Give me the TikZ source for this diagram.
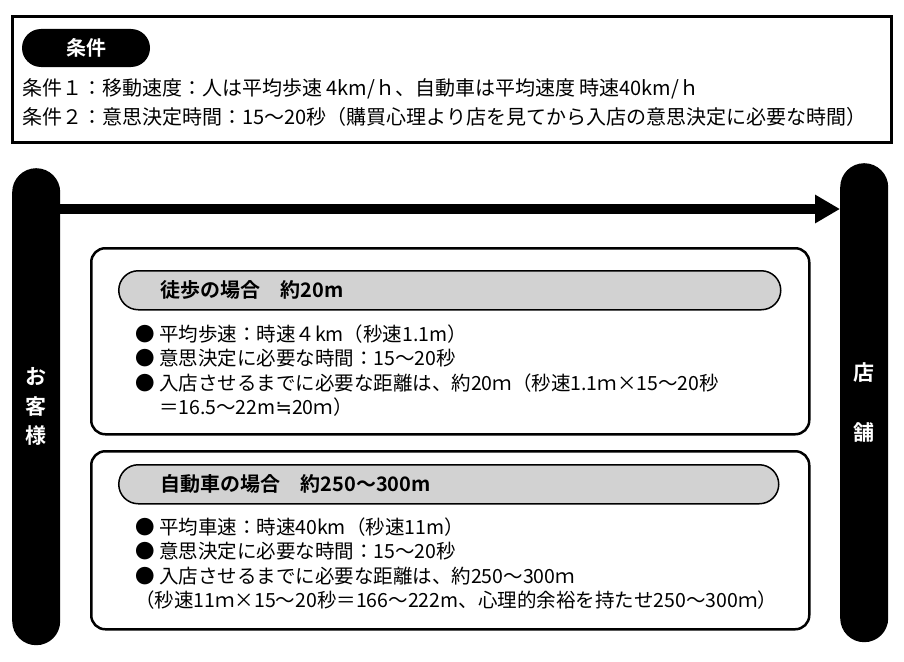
\documentclass[tikz,border=0pt]{standalone}
\usepackage{fontspec}
\setmainfont{Noto Sans CJK JP}[BoldFont={Noto Sans CJK JP Bold}]
\newfontfamily\symfont{DejaVu Sans}
\usetikzlibrary{arrows.meta}
\usetikzlibrary{positioning}

\tikzset{
  panel/.style={draw, line width=2.5pt, rounded corners=14pt, anchor=north west},
  headpill/.style={draw, line width=1.5pt, fill=gray!35, rounded corners=19.5pt,
    minimum height=39pt, inner xsep=42pt, inner ysep=0pt, align=left,
    font=\fontsize{20}{24}\selectfont\bfseries, anchor=north west},
  sidebar/.style={fill=black, rounded corners=24pt, minimum width=48pt,
    text=white, align=center, anchor=north west},
  txtline/.style={anchor=west, inner sep=0pt, text height=17pt, text depth=2pt,
    font=\fontsize{19.5}{24}\selectfont},
  nextline/.style={below=5pt of #1.south west, anchor=north west},
}

\begin{document}
\begin{tikzpicture}[x=1pt, y=-1pt]

    \useasboundingbox (0, 0) rectangle (904, 661);

    % conditions
    \node [draw, line width=3pt, minimum width=879pt, minimum height=126pt,
      anchor=north west] (cond) at (11, 15) {};
    \node [fill=black, text=white, rounded corners=19pt, minimum width=128pt,
      minimum height=38pt, font=\fontsize{20}{24}\selectfont\bfseries]
      (condtag) at (86, 48) {条件};
    \node [txtline, font=\fontsize{20}{24}\selectfont] (cond1) at (22, 88)
    {条件１：移動速度：人は平均歩速 4km/ｈ、自動車は平均速度 時速40km/ｈ};
    \node [txtline, font=\fontsize{20}{24}\selectfont] (cond2) at (22, 117)
    {条件２：意思決定時間：15～20秒（購買心理より店を見てから入店の意思決定に必要な時間）};

    % customer and shop
    \node [sidebar, minimum height=477pt,
      font=\fontsize{21}{29.5}\selectfont\bfseries] (cust) at (12, 168)
    {お\\客\\様};
    \node [sidebar, minimum height=479pt,
      font=\fontsize{21}{60}\selectfont\bfseries] (shop) at (840, 163)
    {店\\舗};

    \coordinate (arrowy) at (0, 209);
    \draw [line width=10pt, -{Triangle[length=25pt, width=27pt]}]
    (cust.east |- arrowy) -- (shop.west |- arrowy);

    % walking
    \node [panel, minimum width=718pt, minimum height=186pt] (walk) at (90, 247) {};
    \node [headpill, text width=578pt] (walkhead) at (118, 270)
    {徒歩の場合　約20m};
    \node [txtline] (w1) at (135, 334) {● 平均歩速：時速４km（秒速1.1m）};
    \node [txtline, nextline=w1] (w2) {● 意思決定に必要な時間：15～20秒};
    \node [txtline, nextline=w2] (w3)
    {● 入店させるまでに必要な距離は、約20ｍ（秒速1.1ｍ×15～20秒};
    \node [txtline, nextline=w3] (w4)
    {\hphantom{● }＝16.5～22m{\symfont ≒}20ｍ）};

    % car
    \node [panel, minimum width=718pt, minimum height=178pt] (car) at (90, 450) {};
    \node [headpill, text width=576pt] (carhead) at (118, 464)
    {自動車の場合　約250～300m};
    \node [txtline] (c1) at (135, 527) {● 平均車速：時速40km（秒速11m）};
    \node [txtline, nextline=c1] (c2) {● 意思決定に必要な時間：15～20秒};
    \node [txtline, nextline=c2] (c3)
    {● 入店させるまでに必要な距離は、約250～300ｍ};
    \node [txtline, nextline=c3] (c4)
    {（秒速11ｍ×15～20秒＝166～222m、心理的余裕を持たせ250～300ｍ）};

  \end{tikzpicture}
\end{document}
